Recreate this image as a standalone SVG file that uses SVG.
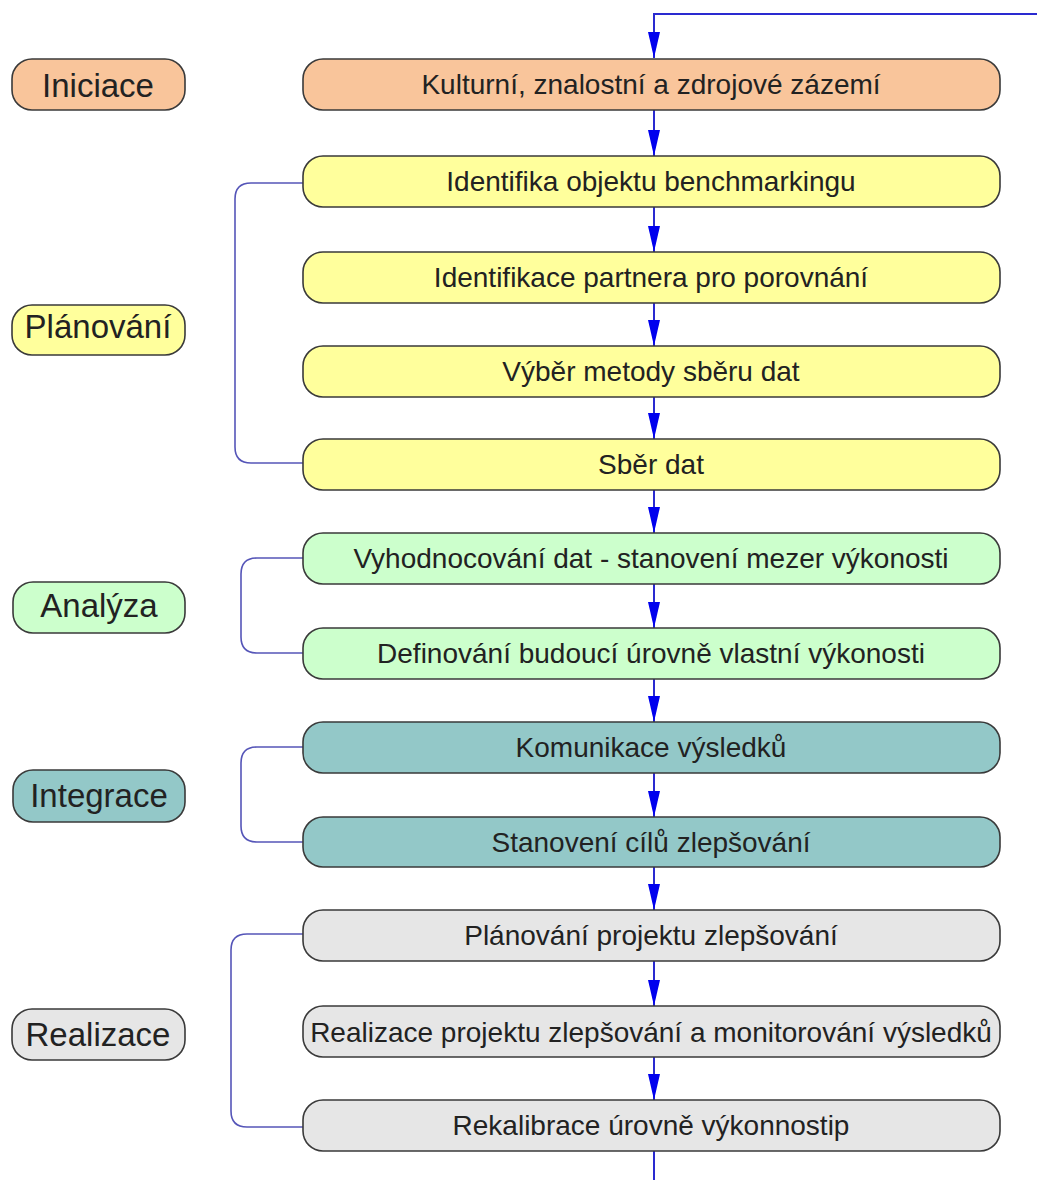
<svg xmlns="http://www.w3.org/2000/svg" width="1037" height="1180" viewBox="0 0 1037 1180">
<defs>
<marker id="ah" markerWidth="26" markerHeight="12" refX="26" refY="6" orient="auto" markerUnits="userSpaceOnUse" viewBox="0 0 26 12">
<path d="M0,0 L26,6 L0,12 Z" fill="#0000ee"/>
</marker>
<style>
.box{stroke:#3a3a3a;stroke-width:1.6}
.t{font-family:"Liberation Sans",Arial,sans-serif;font-size:28px;fill:#222;text-anchor:middle}
.lt{font-family:"Liberation Sans",Arial,sans-serif;font-size:33px;fill:#222;text-anchor:middle}
.o{fill:#f9c59b}.y{fill:#ffff9c}.g{fill:#ccffcc}.c{fill:#93c8c8}.s{fill:#e6e6e6}
.flow{fill:none;stroke:#2a2ad0;stroke-width:2}
.br{fill:none;stroke:#5555b8;stroke-width:1.6}
</style>
</defs>
<rect width="1037" height="1180" fill="#ffffff"/>
<g id="connectors">
<path class="flow" d="M1037,14 H654 V33"/>
<line class="flow" x1="654" y1="30" x2="654" y2="58" marker-end="url(#ah)"/>
<line class="flow" x1="654" y1="110" x2="654" y2="156" marker-end="url(#ah)"/>
<line class="flow" x1="654" y1="207" x2="654" y2="252" marker-end="url(#ah)"/>
<line class="flow" x1="654" y1="303" x2="654" y2="346" marker-end="url(#ah)"/>
<line class="flow" x1="654" y1="397" x2="654" y2="439" marker-end="url(#ah)"/>
<line class="flow" x1="654" y1="490" x2="654" y2="533" marker-end="url(#ah)"/>
<line class="flow" x1="654" y1="584" x2="654" y2="628" marker-end="url(#ah)"/>
<line class="flow" x1="654" y1="679" x2="654" y2="722" marker-end="url(#ah)"/>
<line class="flow" x1="654" y1="773" x2="654" y2="817" marker-end="url(#ah)"/>
<line class="flow" x1="654" y1="867" x2="654" y2="910" marker-end="url(#ah)"/>
<line class="flow" x1="654" y1="961" x2="654" y2="1006" marker-end="url(#ah)"/>
<line class="flow" x1="654" y1="1057" x2="654" y2="1100" marker-end="url(#ah)"/>
<line class="flow" x1="654" y1="1151" x2="654" y2="1180"/>
<path class="br" d="M303,183 H251 Q235,183 235,199 V447 Q235,463 251,463 H303"/>
<path class="br" d="M303,558 H257 Q241,558 241,574 V637 Q241,653 257,653 H303"/>
<path class="br" d="M303,747 H257 Q241,747 241,763 V826 Q241,842 257,842 H303"/>
<path class="br" d="M303,934 H247 Q231,934 231,950 V1111 Q231,1127 247,1127 H303"/>
</g>
<g id="lbl-iniciace"><rect class="box o" x="12" y="59" width="173" height="51" rx="20"/><text class="lt" x="98" y="97">Iniciace</text></g>
<g id="lbl-planovani"><rect class="box y" x="12" y="305" width="173" height="50" rx="20"/><text class="lt" x="98" y="338">Plánování</text></g>
<g id="lbl-analyza"><rect class="box g" x="13" y="582" width="172" height="51" rx="20"/><text class="lt" x="99" y="617">Analýza</text></g>
<g id="lbl-integrace"><rect class="box c" x="13" y="770" width="172" height="52" rx="20"/><text class="lt" x="99" y="807">Integrace</text></g>
<g id="lbl-realizace"><rect class="box s" x="12" y="1009" width="173" height="51" rx="20"/><text class="lt" x="98" y="1046">Realizace</text></g>
<g id="n1"><rect class="box o" x="303" y="59" width="697" height="51" rx="20"/><text class="t" x="651" y="94">Kulturní, znalostní a zdrojové zázemí</text></g>
<g id="n2"><rect class="box y" x="303" y="156" width="697" height="51" rx="20"/><text class="t" x="651" y="191">Identifika objektu benchmarkingu</text></g>
<g id="n3"><rect class="box y" x="303" y="252" width="697" height="51" rx="20"/><text class="t" x="651" y="287">Identifikace partnera pro porovnání</text></g>
<g id="n4"><rect class="box y" x="303" y="346" width="697" height="51" rx="20"/><text class="t" x="651" y="381">Výběr metody sběru dat</text></g>
<g id="n5"><rect class="box y" x="303" y="439" width="697" height="51" rx="20"/><text class="t" x="651" y="474">Sběr dat</text></g>
<g id="n6"><rect class="box g" x="303" y="533" width="697" height="51" rx="20"/><text class="t" x="651" y="568">Vyhodnocování dat - stanovení mezer výkonosti</text></g>
<g id="n7"><rect class="box g" x="303" y="628" width="697" height="51" rx="20"/><text class="t" x="651" y="663">Definování budoucí úrovně vlastní výkonosti</text></g>
<g id="n8"><rect class="box c" x="303" y="722" width="697" height="51" rx="20"/><text class="t" x="651" y="757">Komunikace výsledků</text></g>
<g id="n9"><rect class="box c" x="303" y="817" width="697" height="50" rx="20"/><text class="t" x="651" y="852">Stanovení cílů zlepšování</text></g>
<g id="n10"><rect class="box s" x="303" y="910" width="697" height="51" rx="20"/><text class="t" x="651" y="945">Plánování projektu zlepšování</text></g>
<g id="n11"><rect class="box s" x="303" y="1006" width="697" height="51" rx="20"/><text class="t" x="651" y="1042">Realizace projektu zlepšování a monitorování výsledků</text></g>
<g id="n12"><rect class="box s" x="303" y="1100" width="697" height="51" rx="20"/><text class="t" x="651" y="1135">Rekalibrace úrovně výkonnostip</text></g>
</svg>
